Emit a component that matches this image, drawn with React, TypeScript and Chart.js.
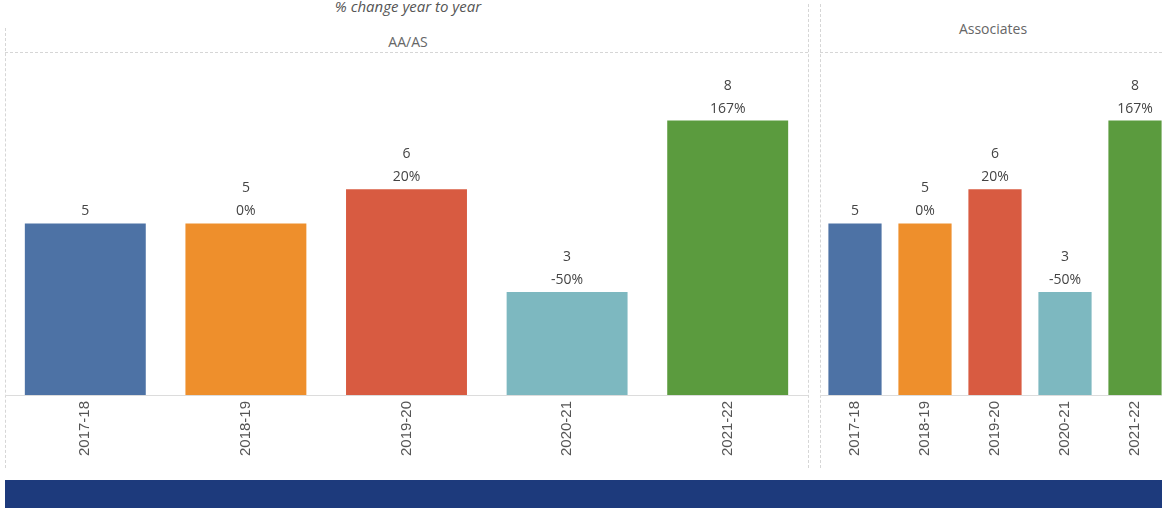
import React, { useEffect, useRef } from "react";
import { Chart, registerables } from "chart.js";

Chart.register(...registerables);

const categories = ["2017-18", "2018-19", "2019-20", "2020-21", "2021-22"];
const aaasValues = [5, 5, 6, 3, 8];
const aaasChange = ["", "0%", "20%", "-50%", "167%"];
const associatesValues = [5, 5, 6, 3, 8];
const associatesChange = ["", "0%", "20%", "-50%", "167%"];
const barColors = ["#4d72a5", "#ee8f2c", "#d85b41", "#7db8c0", "#5b9b3e"];
const yMax = 10;

type PanelProps = {
  values: number[];
  changes: string[];
  width: number;
  height: number;
  barPct: number;
};

function Panel({ values, changes, width, height, barPct }: PanelProps) {
  const ref = useRef<HTMLCanvasElement | null>(null);
  useEffect(() => {
    if (!ref.current) return;
    const labelPlugin = {
      id: "barLabels",
      afterDatasetsDraw(chart: any) {
        const ctx = chart.ctx;
        const meta = chart.getDatasetMeta(0);
        ctx.save();
        ctx.fillStyle = "#444";
        ctx.font = "14px 'Open Sans'";
        ctx.textAlign = "center";
        ctx.textBaseline = "middle";
        meta.data.forEach((el: any, i: number) => {
          const v = String(values[i]);
          const c = changes[i];
          if (c) {
            ctx.fillText(c, el.x, el.y - 12);
            ctx.fillText(v, el.x, el.y - 35);
          } else {
            ctx.fillText(v, el.x, el.y - 12);
          }
        });
        ctx.restore();
      },
    };
    const chart = new Chart(ref.current, {
      type: "bar",
      data: {
        labels: categories,
        datasets: [
          {
            data: values,
            backgroundColor: barColors,
            barPercentage: barPct,
            categoryPercentage: 1,
          },
        ],
      },
      options: {
        responsive: false,
        animation: false,
        layout: { padding: { top: 12, left: 0, right: 0, bottom: 0 } },
        plugins: { legend: { display: false }, tooltip: { enabled: false } },
        scales: {
          x: {
            grid: { display: false, drawTicks: false },
            border: { display: true, color: "#dcdcdc" },
            ticks: {
              minRotation: 90,
              maxRotation: 90,
              autoSkip: false,
              padding: 6,
              color: "#555",
              font: { family: "'Liberation Sans'", size: 15 },
            },
            afterFit: (s: any) => {
              s.height = 75;
            },
          },
          y: {
            display: false,
            min: 0,
            max: yMax,
          },
        },
      },
      plugins: [labelPlugin],
    });
    return () => chart.destroy();
  }, []);
  return (
    <canvas
      ref={ref}
      width={width}
      height={height}
      style={{ width, height, display: "block" }}
    />
  );
}

const dashV = (left: number, top: number, h: number) => (
  <div
    style={{
      position: "absolute",
      left,
      top,
      width: 0,
      height: h,
      borderLeft: "1px dashed #d6d6d6",
    }}
  />
);
const dashH = (left: number, top: number, w: number) => (
  <div
    style={{
      position: "absolute",
      left,
      top,
      width: w,
      height: 0,
      borderTop: "1px dashed #d6d6d6",
    }}
  />
);

export default function App() {
  return (
    <div
      style={{
        position: "fixed",
        left: 0,
        top: 0,
        width: 1162,
        height: 508,
        overflow: "hidden",
        background: "#fff",
        fontFamily: "'Open Sans', sans-serif",
      }}
    >
      <div
        style={{
          position: "absolute",
          left: 208,
          width: 400,
          top: -4,
          textAlign: "center",
          fontStyle: "italic",
          fontSize: 15,
          color: "#555",
        }}
      >
        % change year to year
      </div>
      <div
        style={{
          position: "absolute",
          left: 308,
          width: 200,
          top: 32,
          textAlign: "center",
          fontSize: 14,
          color: "#666",
        }}
      >
        AA/AS
      </div>
      <div
        style={{
          position: "absolute",
          left: 893,
          width: 200,
          top: 19,
          textAlign: "center",
          fontSize: 14,
          color: "#666",
        }}
      >
        Associates
      </div>
      {dashV(5, 28, 440)}
      {dashV(808, 4, 464)}
      {dashV(820, 4, 464)}
      {dashH(5, 52, 803)}
      {dashH(820, 52, 342)}
      <div style={{ position: "absolute", left: 5, top: 40 }}>
        <Panel values={aaasValues} changes={aaasChange} width={803} height={430} barPct={0.753} />
      </div>
      <div style={{ position: "absolute", left: 820, top: 40 }}>
        <Panel
          values={associatesValues}
          changes={associatesChange}
          width={350}
          height={430}
          barPct={0.76}
        />
      </div>
      <div
        style={{
          position: "absolute",
          left: 5,
          top: 480,
          width: 1157,
          height: 28,
          background: "#1d3a7c",
        }}
      />
    </div>
  );
}
